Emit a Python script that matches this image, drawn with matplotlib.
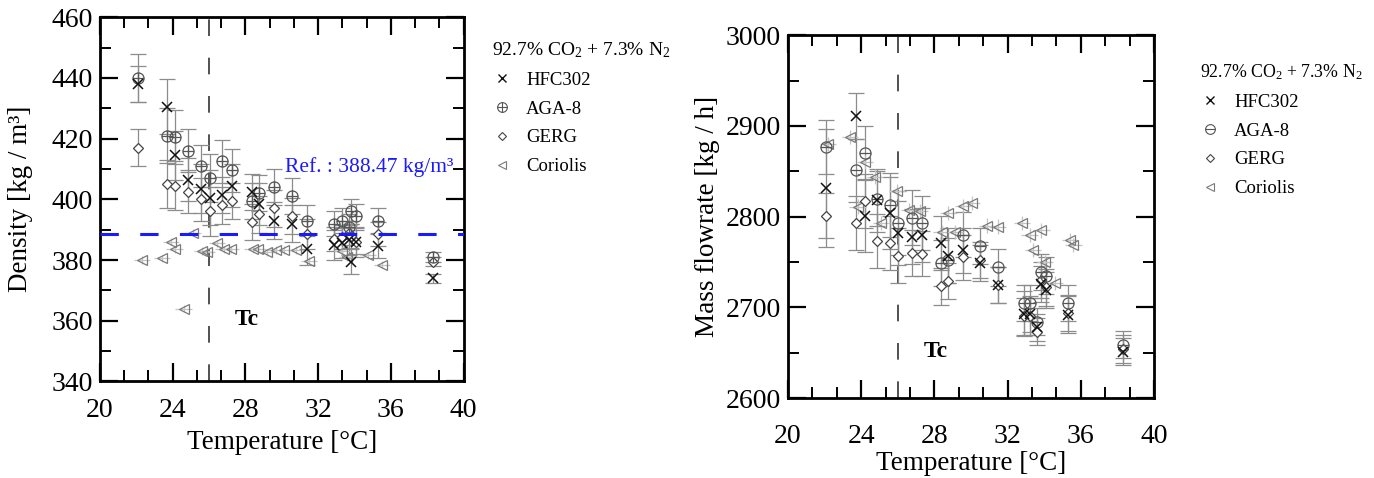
import matplotlib
matplotlib.use("Agg")
import matplotlib.pyplot as plt
from matplotlib.path import Path
from matplotlib.lines import Line2D
from matplotlib.ticker import MultipleLocator, AutoMinorLocator

plt.rcParams['font.family'] = ['Liberation Serif', 'DejaVu Serif']
plt.rcParams['mathtext.fontset'] = 'custom'
plt.rcParams['mathtext.rm'] = 'Liberation Serif'
plt.rcParams['mathtext.it'] = 'Liberation Serif:italic'

# ---------------- data: left panel (density) ----------------
temp_L = [22.1, 23.7, 24.1, 24.85, 25.55, 26.05, 26.7, 27.25, 28.35, 28.75, 29.55, 30.55,
          31.4, 32.85, 33.3, 33.7, 33.8, 34.1, 35.3, 38.3]
hfc_L = [438.0, 430.5, 414.5, 406.5, 403.5, 400.5, 401.5, 404.5, 402.5, 398.5, 393.0, 392.0,
         383.5, 385.0, 385.5, 386.5, 379.5, 386.0, 384.5, 374.0]
aga_L = [440.0, 421.0, 420.5, 416.0, 411.0, 407.0, 412.5, 409.5, 399.5, 402.0, 404.0, 401.0,
         393.0, 392.0, 393.0, 391.0, 396.0, 394.5, 393.0, 381.0]
gerg_L = [417.0, 405.0, 404.5, 402.5, 400.0, 396.0, 398.0, 399.5, 392.5, 395.0, 397.0, 394.5,
          388.5, 387.0, 387.5, 389.0, 388.0, 386.0, 388.5, 379.5]
hfc_err_L = [6, 9, 8, 7, 8, 9, 6, 7, 6, 7, 6, 6, 5, 5, 5, 5, 4, 5, 4, 1.5]
aga_err_L = [8, 9, 9, 7, 7, 8, 7, 7, 6, 6, 6, 6, 5, 4, 4, 4, 4, 4, 4, 1.5]
gerg_err_L = [6, 8, 8, 7, 7, 8, 6, 6, 6, 6, 6, 6, 5, 4, 4, 4, 4, 4, 4, 1.5]
cor_temp_L = [22.3, 23.4, 23.9, 24.1, 24.6, 25.1, 25.6, 25.9, 26.45, 26.8, 27.2, 28.4, 28.7,
              29.2, 29.7, 30.1, 30.8, 31.5, 33.3, 33.6, 34.75, 35.5]
cor_L = [380.0, 380.5, 386.0, 383.5, 364.0, 389.0, 383.0, 382.5, 385.5, 383.5, 383.5, 383.5,
         383.5, 382.5, 383.3, 383.3, 383.3, 379.7, 383.0, 381.0, 381.5, 378.5]
ref_density = 388.47

# ---------------- data: right panel (mass flowrate) ----------------
temp_R = [22.1, 23.7, 24.2, 24.85, 25.6, 26.0, 26.8, 27.3, 28.35, 28.75, 29.55, 30.5,
          31.45, 32.9, 33.2, 33.6, 33.85, 34.1, 35.3, 38.3]
hfc_R = [2832, 2911, 2801, 2818, 2804, 2782, 2778, 2780, 2771, 2757, 2763, 2749,
         2725, 2693, 2693, 2678, 2726, 2719, 2692, 2651]
aga_R = [2877, 2851, 2870, 2820, 2813, 2793, 2799, 2793, 2749, 2752, 2780, 2768,
         2744, 2705, 2705, 2684, 2739, 2735, 2705, 2659]
gerg_R = [2801, 2793, 2817, 2773, 2771, 2757, 2760, 2759, 2723, 2729, 2755, 2752,
          2725, 2690, 2690, 2673, 2730, 2722, 2694, 2654]
hfc_err_R = [65, 25, 40, 35, 40, 35, 30, 30, 30, 30, 25, 20, 20, 25, 20, 15, 20, 20, 20, 15]
aga_err_R = [30, 35, 30, 30, 35, 35, 30, 30, 25, 25, 25, 20, 20, 20, 20, 15, 20, 20, 20, 15]
gerg_err_R = [25, 30, 30, 30, 30, 30, 25, 25, 20, 20, 25, 20, 20, 20, 20, 15, 20, 20, 20, 15]
cor_temp_R = [22.2, 23.4, 23.8, 24.2, 24.75, 25.1, 25.95, 26.6, 27.2, 28.4, 28.76, 29.1,
              29.55, 30.04, 30.9, 31.45, 32.8, 33.2, 33.4, 33.85, 34.05, 34.6, 35.4, 35.6]
cor_R = [2880, 2888, 2811, 2860, 2844, 2793, 2828, 2807, 2806, 2783, 2804, 2783,
         2812, 2815, 2790, 2789, 2793, 2780, 2763, 2785, 2750, 2727, 2774, 2769]

legend_title = r"92.7% CO$_2$ + 7.3% N$_2$"
series_names = ["HFC302", "AGA-8", "GERG", "Coriolis"]
T_crit = 26.0

# ---------------- markers ----------------
circ = Path.unit_circle()
plus_path = Path([[-1, 0], [1, 0], [0, -1], [0, 1]],
                 [Path.MOVETO, Path.LINETO, Path.MOVETO, Path.LINETO])
minus_path = Path([[-1, 0], [1, 0]], [Path.MOVETO, Path.LINETO])
oplus = Path.make_compound_path(circ, plus_path)
ominus = Path.make_compound_path(circ, minus_path)

fig = plt.figure(figsize=(13.74, 4.78), dpi=100)
axL = fig.add_axes([100/1374, 1-381.4/478, (463.5-100)/1374, (381.4-17.2)/478])
axR = fig.add_axes([788/1374, 1-398/478, (1154-788)/1374, (398-35.3)/478])

EB = '#8c8c8c'
EB_C = '#c4c4c4'


def draw_panel(ax, T, hfc, aga, gerg, eh, ea, eg, tc, cor, cor_err, aga_marker):
    ax.errorbar(T, aga, yerr=ea, fmt='none', ecolor=EB, elinewidth=0.9, capsize=6, capthick=0.9, zorder=2)
    ax.errorbar(T, hfc, yerr=eh, fmt='none', ecolor=EB, elinewidth=0.9, capsize=6, capthick=0.9, zorder=2)
    ax.errorbar(T, gerg, yerr=eg, fmt='none', ecolor=EB, elinewidth=0.9, capsize=6, capthick=0.9, zorder=2)
    ax.errorbar(tc, cor, yerr=cor_err, xerr=0.45, fmt='none', ecolor=EB_C, elinewidth=0.9,
                capsize=0, zorder=2)
    ax.plot(tc, cor, ls='none', marker='<', ms=7, mfc='none', mec='#7a7a7a', mew=0.9, zorder=3)
    ax.plot(T, gerg, ls='none', marker='D', ms=5.5, mfc='white', mec='#444444', mew=0.9, zorder=4)
    ax.plot(T, aga, ls='none', marker=aga_marker, ms=8, mfc='none', mec='#555555', mew=0.9, zorder=4)
    ax.plot(T, hfc, ls='none', marker='x', ms=7.5, mec='#111111', mew=1.1, zorder=5)


def style_axes(ax, ymaj, ymin_n, xpad):
    ax.set_xlim(20, 40)
    ax.xaxis.set_major_locator(MultipleLocator(4))
    ax.xaxis.set_minor_locator(AutoMinorLocator(3))
    ax.yaxis.set_major_locator(MultipleLocator(ymaj))
    ax.yaxis.set_minor_locator(AutoMinorLocator(ymin_n))
    ax.tick_params(which='both', direction='in', top=True, right=True, labelsize=20)
    ax.tick_params(axis='x', which='both', pad=xpad)
    ax.tick_params(axis='y', which='both', pad=5)
    ax.tick_params(which='major', length=13, width=1.6)
    ax.tick_params(which='minor', length=8, width=1.4)
    for s in ax.spines.values():
        s.set_linewidth(2.0)


# ---- left ----
draw_panel(axL, temp_L, hfc_L, aga_L, gerg_L, hfc_err_L, aga_err_L, gerg_err_L,
           cor_temp_L, cor_L, 1.2, oplus)
axL.axvline(T_crit, color='#333333', lw=1.2, dashes=(10, 13), zorder=1)
axL.axhline(ref_density, color='#1a1aff', lw=2.2, dashes=(6, 7), zorder=6)
axL.text(30.2, 410.5, "Ref. : 388.47 kg/m³", color='#1a1aff', fontsize=15.5, va='center')
axL.text(27.4, 360.5, "Tc", fontsize=17, fontweight='bold', va='center')
axL.set_ylim(340, 460)
style_axes(axL, 20, 2, 12)
axL.set_xlabel("Temperature [°C]", fontsize=19.5, labelpad=5)
axL.set_ylabel("Density [kg / m³]", fontsize=19.5, labelpad=13)

# ---- right ----
draw_panel(axR, temp_R, hfc_R, aga_R, gerg_R, hfc_err_R, aga_err_R, gerg_err_R,
           cor_temp_R, cor_R, 8, ominus)
axR.axvline(T_crit, color='#333333', lw=1.2, dashes=(10, 13), zorder=1)
axR.text(27.4, 2651, "Tc", fontsize=17, fontweight='bold', va='center')
axR.set_ylim(2600, 3000)
style_axes(axR, 100, 2, 19)
axR.set_xlabel("Temperature [°C]", fontsize=19.5, labelpad=1)
axR.set_ylabel("Mass flowrate [kg / h]", fontsize=19.5, labelpad=4)


def make_handles(aga_marker):
    return [
        Line2D([], [], ls='none', marker='x', ms=6, mec='#111111', mew=1.0),
        Line2D([], [], ls='none', marker=aga_marker, ms=7, mfc='none', mec='#555555', mew=0.8),
        Line2D([], [], ls='none', marker='D', ms=4.5, mfc='none', mec='#444444', mew=0.8),
        Line2D([], [], ls='none', marker='<', ms=6, mfc='none', mec='#7a7a7a', mew=0.8),
    ]


for ax, marker, anchor, tfs in [(axL, oplus, (483/1374, 1-31/478), 14),
                                (axR, ominus, (1191/1374, 1-53/478), 12.8)]:
    leg = fig.legend(make_handles(marker), series_names, title=legend_title, loc='upper left',
                     bbox_to_anchor=anchor, frameon=False, fontsize=13.5, title_fontsize=tfs,
                     handlelength=1.0, handletextpad=0.8, labelspacing=0.62, borderpad=0)
    leg._legend_box.align = 'left'

fig.savefig("out.png", dpi=100)
